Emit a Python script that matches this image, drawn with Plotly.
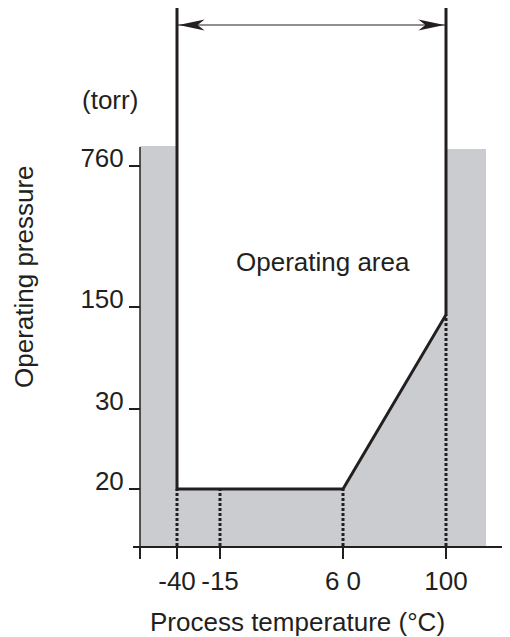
import numpy as np
import plotly.graph_objects as go

# ---------------- data ----------------
temp_ticks = [-40, -15, 60, 100]
temp_tick_labels = ["-40", "-15", "6 0", "100"]
pressure_ticks = [20, 30, 150, 760]
pressure_tick_labels = ["20", "30", "150", "760"]

# operating-area boundary (temperature in °C, pressure in torr)
boundary_temp = [-40, -40, 60, 100, 100]
boundary_pressure = [None, 20, 20, 141, None]   # None = open towards the top

# dotted guide lines (temperature, pressure where they meet the boundary)
guide_temp = [-40, -15, 60, 100]
guide_pressure = [20, 20, 20, 141]

# ---------------- schematic scales (the axes are not to scale) ----------------
X_SCALE_T = [-40, -15, 60, 100]
X_SCALE_U = [37, 80, 203, 306]
Y_SCALE_P = [20, 30, 150, 760]
Y_SCALE_U = [57, 137, 239, 380]
X_RANGE = [-7, 370]
Y_RANGE = [0, 538]
X_GRAY_END = 346
GRAY_TOP_LEFT = 400
GRAY_TOP_RIGHT = 397
Y_AXIS_TOP = 399
ARROW_LEVEL = 521


def xs(t):
    return float(np.interp(t, X_SCALE_T, X_SCALE_U))


def ys(p):
    if p is None:
        return Y_RANGE[1]
    return float(np.interp(p, Y_SCALE_P, Y_SCALE_U))


INK = "#231f20"
GRAY = "#cbccd0"
FONT = "Liberation Sans, Arial, sans-serif"
FS = 26

fig = go.Figure()

# gray (non-operating) region
gx = [0, 0, xs(-40), xs(-40), xs(60), xs(100), xs(100), X_GRAY_END, X_GRAY_END]
gy = [0, GRAY_TOP_LEFT, GRAY_TOP_LEFT, ys(20), ys(20), ys(141),
      GRAY_TOP_RIGHT, GRAY_TOP_RIGHT, 0]
fig.add_trace(go.Scatter(x=gx, y=gy, mode="lines", fill="toself",
                         fillcolor=GRAY, line=dict(width=0, color=GRAY),
                         hoverinfo="skip", showlegend=False))

# dotted guides
for t, p in zip(guide_temp, guide_pressure):
    fig.add_trace(go.Scatter(x=[xs(t), xs(t)], y=[0, ys(p)], mode="lines",
                             line=dict(color=INK, width=3, dash="3px,2px"),
                             hoverinfo="skip", showlegend=False))

# operating boundary
fig.add_trace(go.Scatter(x=[xs(t) for t in boundary_temp],
                         y=[ys(p) for p in boundary_pressure],
                         mode="lines", line=dict(color=INK, width=3),
                         hoverinfo="skip", showlegend=False))

# arrow shaft
fig.add_trace(go.Scatter(x=[xs(-40), xs(100)], y=[ARROW_LEVEL, ARROW_LEVEL],
                         mode="lines", line=dict(color=INK, width=1.2),
                         hoverinfo="skip", showlegend=False))

shapes = [
    # y axis line
    dict(type="line", xref="x", yref="y", x0=0, x1=0, y0=0, y1=Y_AXIS_TOP,
         line=dict(color=INK, width=1.5)),
    # arrowheads
    dict(type="path", xref="x", yref="y", xsizemode="pixel", ysizemode="pixel",
         xanchor=xs(-40) + 0.6, yanchor=ARROW_LEVEL,
         path="M1,0 L27,5.5 L20,0 L27,-5.5 Z", fillcolor=INK,
         line=dict(width=0)),
    dict(type="path", xref="x", yref="y", xsizemode="pixel", ysizemode="pixel",
         xanchor=xs(100) - 0.6, yanchor=ARROW_LEVEL,
         path="M-1,0 L-27,5.5 L-20,0 L-27,-5.5 Z", fillcolor=INK,
         line=dict(width=0)),
]


def label(text, px, py, angle=0):
    # px, py: page position of the text centre
    return dict(text=text, x=(px - 133) / 377, y=1 - (py - 8) / 538,
                xref="paper", yref="paper", xanchor="center",
                yanchor="middle", showarrow=False, textangle=angle,
                font=dict(size=FS, color=INK, family=FONT))


annotations = [
    label("Operating area", 323, 262),
    label("(torr)", 110, 100),
    label("Operating pressure", 24, 277, -90),
    label("Process temperature (°C)", 297, 622),
]

# figure drawn inside the page's default 8px body margin
fig.update_layout(
    width=502, height=629,
    margin=dict(l=125, r=0, t=0, b=91, pad=0),
    paper_bgcolor="white", plot_bgcolor="white",
    shapes=shapes, annotations=annotations,
    showlegend=False,
    font=dict(family=FONT, size=FS, color=INK),
    xaxis=dict(range=X_RANGE, showgrid=False, zeroline=False,
               showline=True, linecolor=INK, linewidth=1.5,
               ticks="outside", ticklen=11, tickwidth=2.2, tickcolor=INK,
               tickvals=[0] + [xs(t) for t in temp_ticks],
               ticktext=[""] + temp_tick_labels,
               tickfont=dict(size=FS, color=INK, family=FONT)),
    yaxis=dict(range=Y_RANGE, showgrid=False, zeroline=False, showline=False,
               anchor="free", position=7 / 377,
               ticks="outside", ticklen=11, tickwidth=2.2, tickcolor=INK,
               tickvals=[ys(p) for p in pressure_ticks],
               ticktext=pressure_tick_labels, ticklabelshift=-8,
               tickfont=dict(size=FS, color=INK, family=FONT)),
)

fig.write_html("out.html")
